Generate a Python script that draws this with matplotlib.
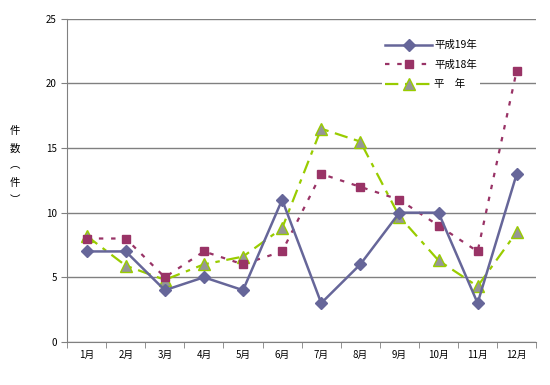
import matplotlib
matplotlib.use("Agg")
from matplotlib import pyplot as plt
import numpy as np

plt.rcParams['font.family'] = ['Noto Sans CJK JP', 'DejaVu Sans']

# data
months = ['1月', '2月', '3月', '4月', '5月', '6月', '7月', '8月', '9月', '10月', '11月', '12月']
h19 = [7, 7, 4, 5, 4, 11, 3, 6, 10, 10, 3, 13]
h18 = [8, 8, 5, 7, 6, 7, 13, 12, 11, 9, 7, 21]
normal = [8.2, 5.9, 4.8, 6.0, 6.6, 8.8, 16.5, 15.5, 9.7, 6.3, 4.3, 8.5]

fig = plt.figure(figsize=(5.5, 3.85), dpi=100)
ax = fig.add_axes([0.122, 0.112, 0.853, 0.839])

x = np.arange(len(months))

ax.plot(x, h19, color='#666699', lw=1.8, marker='D', ms=6.5,
        label='平成19年', zorder=4)
ax.plot(x, h18, color='#993366', lw=1.6, ls=(0, (2, 3.5)), marker='s', ms=5.5,
        label='平成18年', zorder=3)
ax.plot(x, normal, color='#99CC00', lw=1.6, ls=(0, (6, 3, 2, 3)), marker='^', ms=9,
        markerfacecolor='#969696', markeredgecolor='#99CC00', markeredgewidth=1,
        label='平　年', zorder=2)

ax.set_xlim(-0.5, len(months) - 0.5)
ax.set_ylim(0, 25)
ax.set_yticks([0, 5, 10, 15, 20, 25])
ax.set_xticks(x)
ax.set_xticklabels(months)
ax.set_xticks(np.arange(-0.5, len(months)), minor=True)
ax.tick_params(axis='x', which='major', length=0, labelsize=7, pad=6)
ax.tick_params(axis='x', which='minor', length=4, color='#808080')
ax.tick_params(axis='y', length=4, color='#808080', labelsize=7)

ax.yaxis.grid(True, color='#808080', lw=1)
ax.set_axisbelow(True)
for side in ['top', 'right']:
    ax.spines[side].set_visible(False)
for side in ['left', 'bottom']:
    ax.spines[side].set_color('#808080')

fig.text(0.027, 0.57, '件\n数\n︵\n件\n︶', fontsize=7.5, ha='center', va='center',
         linespacing=1.9)

leg = ax.legend(loc='upper left', bbox_to_anchor=(0.66, 0.96), frameon=True,
                fontsize=7.5, handlelength=4.5, labelspacing=0.9, borderpad=0.3,
                handletextpad=0.2)
leg.get_frame().set_edgecolor('none')
leg.get_frame().set_facecolor('white')
leg.get_frame().set_alpha(1)

fig.savefig('out.png', dpi=100)
